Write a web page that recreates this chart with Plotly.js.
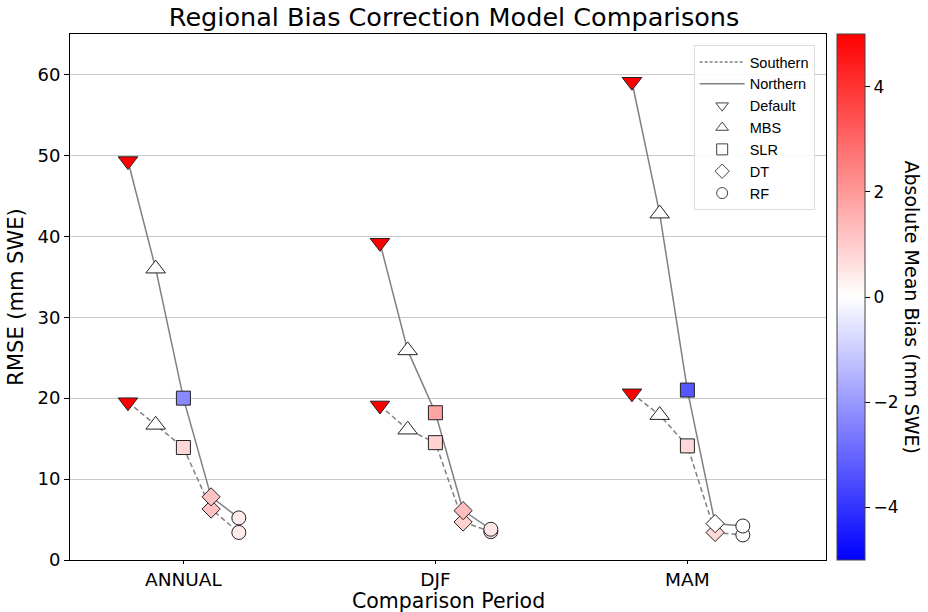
<!DOCTYPE html>
<html>
<head>
<meta charset="utf-8">
<script src="https://cdn.plot.ly/plotly-3.0.1.min.js"></script>
<style>html,body{margin:0;padding:0;background:#fff;}#chart{width:928px;height:612px;}</style>
</head>
<body>
<div id="chart"></div>
<script>
// ---- data ----
const periods = ['ANNUAL', 'DJF', 'MAM'];
const models = ['Default', 'MBS', 'SLR', 'DT', 'RF'];
// RMSE (mm SWE), one row per period, columns follow `models`
const rmseNorthern = [
  [49.3, 36.0, 20.0, 7.8, 5.2],
  [39.2, 25.9, 18.2, 6.1, 3.8],
  [59.1, 42.8, 21.0, 4.5, 4.2]
];
const rmseSouthern = [
  [19.5, 16.7, 13.9, 6.3, 3.4],
  [19.1, 16.1, 14.5, 4.7, 3.5],
  [20.6, 17.9, 14.1, 3.4, 3.1]
];
// Absolute mean bias (mm SWE)
const biasNorthern = [
  [6.0, 0.0, -2.3, 1.2, 0.4],
  [6.0, 0.0, 1.8, 1.3, 0.5],
  [6.0, 0.0, -3.3, 0.0, 0.0]
];
const biasSouthern = [
  [6.0, 0.0, 0.8, 1.2, 0.4],
  [6.0, 0.0, 0.9, 0.9, 0.5],
  [6.0, 0.0, 0.75, 0.75, 0.05]
];

// ---- styling ----
const FONT = 'DejaVu Sans, sans-serif';
const symbolOf = {Default: 'triangle-down', MBS: 'triangle-up', SLR: 'square', DT: 'diamond', RF: 'circle'};
const sizeOf = {Default: 17, MBS: 17, SLR: 14, DT: 14, RF: 14};
const spread = 0.11;
const bwr = [[0, 'rgb(0,0,255)'], [0.5, 'rgb(255,255,255)'], [1, 'rgb(255,0,0)']];
const regions = [
  {name: 'Southern', rmse: rmseSouthern, bias: biasSouthern, dash: '5px,3px'},
  {name: 'Northern', rmse: rmseNorthern, bias: biasNorthern, dash: 'solid'}
];

const traces = [];
const xOf = (p, m) => p + (m - (models.length - 1) / 2) * spread;

// lines first
regions.forEach(r => {
  periods.forEach((per, p) => {
    traces.push({
      type: 'scatter', mode: 'lines',
      x: models.map((_, m) => xOf(p, m)),
      y: r.rmse[p],
      line: {color: '#808080', width: 1.5, dash: r.dash},
      showlegend: false, hoverinfo: 'skip'
    });
  });
});

// markers
let first = true;
regions.forEach(r => {
  periods.forEach((per, p) => {
    traces.push({
      type: 'scatter', mode: 'markers',
      x: models.map((_, m) => xOf(p, m)),
      y: r.rmse[p],
      text: models.map(m => r.name + ' ' + per + ' ' + m),
      marker: {
        symbol: models.map(m => symbolOf[m]),
        size: models.map(m => sizeOf[m]),
        opacity: 1,
        color: r.bias[p],
        colorscale: bwr,
        cmin: -5, cmax: 5,
        showscale: first,
        line: {color: '#222', width: 1},
        colorbar: first ? {
          x: 1.0146, xanchor: 'left', y: 0.5, yanchor: 'middle',
          len: 1, lenmode: 'fraction', thickness: 28,
          xpad: 0, ypad: 0,
          outlinewidth: 1, outlinecolor: '#444',
          ticks: 'outside', ticklen: 5, tickcolor: '#000',
          tickvals: [-4, -2, 0, 2, 4],
          ticktext: ['\u22124', '\u22122', '0', '2', '4'],
          tickfont: {family: FONT, size: 17, color: '#000'}
        } : undefined
      },
      showlegend: false
    });
    first = false;
  });
});

// legend entries
regions.forEach(r => {
  traces.push({
    type: 'scatter', mode: 'lines', x: [null], y: [null], name: r.name,
    line: {color: '#808080', width: 1.5, dash: r.dash === 'solid' ? 'solid' : '3px,2px'}, showlegend: true
  });
});
models.forEach(m => {
  traces.push({
    type: 'scatter', mode: 'markers', x: [null], y: [null], name: m,
    marker: {symbol: symbolOf[m] + '-open', size: 11, color: '#444', line: {width: 1}},
    showlegend: true
  });
});

const layout = {
  width: 928, height: 612,
  margin: {l: 70, r: 102, t: 34, b: 52},
  paper_bgcolor: '#fff', plot_bgcolor: '#fff',
  font: {family: FONT, color: '#000'},
  title: {text: 'Regional Bias Correction Model Comparisons', font: {family: FONT, size: 25.5, color: '#000'},
          xref: 'paper', x: 0.508, xanchor: 'center', y: 0.972, yanchor: 'middle'},
  xaxis: {
    range: [-0.45, 2.55], tickvals: [0, 1, 2], ticktext: periods,
    showgrid: false, zeroline: false,
    showline: true, mirror: true, linecolor: '#000', linewidth: 1,
    ticks: 'outside', ticklen: 3, tickcolor: '#000',
    tickfont: {family: FONT, size: 18.5}
  },
  yaxis: {
    range: [0, 65], tickvals: [0, 10, 20, 30, 40, 50, 60],
    showgrid: true, gridcolor: '#c8c8c8', gridwidth: 1, zeroline: false,
    showline: true, mirror: true, linecolor: '#000', linewidth: 1,
    ticks: 'outside', ticklen: 5, tickcolor: '#000',
    tickfont: {family: FONT, size: 18},
    title: {text: 'RMSE (mm SWE)', font: {family: FONT, size: 21}, standoff: 8}
  },
  legend: {
    x: 0.985, xanchor: 'right', y: 0.979, yanchor: 'top',
    itemwidth: 45,
    bgcolor: 'rgba(255,255,255,0.9)', bordercolor: '#dddddd', borderwidth: 1,
    font: {family: 'Liberation Sans, Arial, sans-serif', size: 14.5, color: '#000'}
  },
  annotations: [{
    text: 'Absolute Mean Bias (mm SWE)', xref: 'paper', yref: 'paper',
    x: 1.1138, y: 0.48, xanchor: 'center', yanchor: 'middle', showarrow: false,
    textangle: 90, font: {family: FONT, size: 19, color: '#000'}
  }, {
    text: 'Comparison Period', xref: 'paper', yref: 'paper',
    x: 0.5, y: -0.077, xanchor: 'center', yanchor: 'middle', showarrow: false,
    font: {family: FONT, size: 20.5, color: '#000'}
  }],
  showlegend: true
};

Plotly.newPlot('chart', traces, layout, {displayModeBar: false, staticPlot: true});
</script>
</body>
</html>
